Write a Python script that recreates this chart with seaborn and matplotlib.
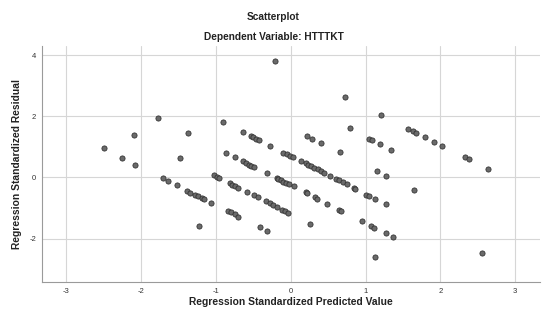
import matplotlib
matplotlib.use("Agg")
import matplotlib.pyplot as plt
import seaborn as sns
import pandas as pd

# Regression standardized predicted values (x) and standardized residuals (y)
predicted = [
    -1.78, -2.09, -2.50, -2.25, -2.08, -1.71, -1.64, -1.52, -1.37, -1.48,
    -1.39, -1.35, -1.28, -1.24, -1.19, -1.16, -1.06, -1.23, -0.90,
    -1.03, -0.99, -0.96, -0.86, -0.74,
    -0.64, -0.60, -0.56, -0.53, -0.49, -0.64,
    -0.53, -0.50, -0.46, -0.42, -0.28, -0.32,
    -0.81, -0.78, -0.74, -0.70, -0.59, -0.49, -0.44,
    -0.33, -0.28, -0.24, -0.19, -0.12, -0.08, -0.04,
    -0.84, -0.80, -0.75, -0.70, -0.41, -0.32, -0.21,
    -0.19, -0.17, -0.13, -0.10, -0.06, -0.02, 0.04,
    -0.10, -0.05, -0.01, 0.03,
    0.13, 0.20, 0.23, 0.27, 0.31, 0.36, 0.40, 0.45, 0.53,
    0.61, 0.65, 0.70, 0.75, 0.85, 0.86,
    0.20, 0.22, 0.32, 0.35, 0.49, 0.65, 0.67, 0.26,
    0.22, 0.29, 0.41, 0.66, 0.79, 0.72, 1.20,
    1.05, 1.09, 1.19, 1.34, 1.15, 1.27,
    1.01, 1.05, 1.13, 1.27, 0.95, 1.07, 1.11, 1.27, 1.36, 1.12,
    1.65, 1.57, 1.64, 1.68, 1.79, 1.91, 2.02, 2.33, 2.38, 2.63, 2.56,
]
residual = [
    1.95, 1.38, 0.95, 0.63, 0.42, -0.03, -0.12, -0.26, 1.44, 0.64,
    -0.44, -0.51, -0.56, -0.60, -0.67, -0.71, -0.85, -1.58, 1.80,
    0.07, 0.02, -0.02, 0.80, 0.65,
    0.53, 0.48, 0.42, 0.38, 0.34, 1.47,
    1.35, 1.31, 1.26, 1.21, 1.02, 0.14,
    -0.20, -0.25, -0.29, -0.34, -0.49, -0.58, -0.64,
    -0.78, -0.84, -0.90, -0.98, -1.07, -1.10, -1.16,
    -1.10, -1.14, -1.21, -1.30, -1.63, -1.75, 3.79,
    -0.03, -0.06, -0.10, -0.14, -0.19, -0.23, -0.29,
    0.80, 0.75, 0.70, 0.65,
    0.52, 0.46, 0.40, 0.36, 0.31, 0.26, 0.21, 0.13, 0.03,
    -0.06, -0.10, -0.16, -0.23, -0.36, -0.38,
    -0.49, -0.52, -0.65, -0.70, -0.86, -1.07, -1.09, -1.53,
    1.34, 1.27, 1.12, 0.82, 1.60, 2.63, 2.04,
    1.27, 1.23, 1.09, 0.91, 0.21, 0.05,
    -0.56, -0.61, -0.72, -0.88, -1.44, -1.59, -1.65, -1.83, -1.95, -2.60,
    -0.42, 1.58, 1.50, 1.44, 1.31, 1.15, 1.02, 0.65, 0.59, 0.27, -2.48,
]

x_ticks = [-3, -2, -1, 0, 1, 2, 3]
y_ticks = [-2, 0, 2, 4]

title = "Scatterplot"
subtitle = "Dependent Variable: HTTTKT"
x_label = "Regression Standardized Predicted Value"
y_label = "Regression Standardized Residual"

df = pd.DataFrame({"pred": predicted, "resid": residual})

sns.set_style("white")
plt.rcParams["font.family"] = ["Liberation Sans", "DejaVu Sans"]

fig = plt.figure(figsize=(5.47, 3.23), dpi=100)
ax = fig.add_axes([0.0762, 0.126, 0.9108, 0.733])

sns.scatterplot(data=df, x="pred", y="resid", ax=ax,
                s=14, color="#6a6a6a", edgecolor="#2e2e2e", linewidth=0.55,
                zorder=3)

ax.set_xlim(-3.33, 3.33)
ax.set_ylim(-3.43, 4.31)
ax.set_xticks(x_ticks)
ax.set_yticks(y_ticks)
ax.set_xticklabels([str(t) for t in x_ticks], fontsize=5.5, color="#333333")
ax.set_yticklabels([str(t) for t in y_ticks], fontsize=5.5, color="#333333")
ax.tick_params(axis="both", length=0, pad=4)

ax.grid(True, color="#d6d6d6", linewidth=0.8, zorder=0)
ax.set_axisbelow(True)
for side in ["top", "right"]:
    ax.spines[side].set_visible(False)
for side in ["left", "bottom"]:
    ax.spines[side].set_color("#9a9a9a")
    ax.spines[side].set_linewidth(0.8)

ax.set_xlabel("")
ax.set_ylabel("")

fig.text(0.5, 1 - 16.5 / 323, title, ha="center", va="center",
         fontsize=7.3, fontweight="bold", color="#222222")
fig.text(0.5, 1 - 36.6 / 323, subtitle, ha="center", va="center",
         fontsize=7.3, fontweight="bold", color="#222222")
fig.text(291 / 547, 1 - 302 / 323, x_label, ha="center", va="center",
         fontsize=7.4, fontweight="bold", color="#222222")
fig.text(17 / 547, 1 - 164 / 323, y_label, ha="center", va="center",
         rotation=90, fontsize=7.4, fontweight="bold", color="#222222")

fig.savefig("out.png", dpi=100, facecolor="white")
